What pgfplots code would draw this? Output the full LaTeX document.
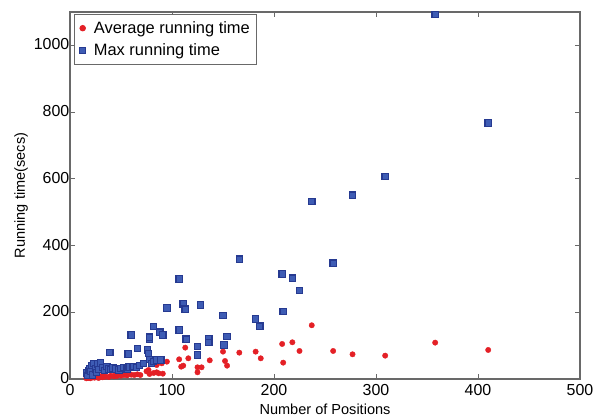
\documentclass[border=0pt]{standalone}
\usepackage{pgfplots}
\pgfplotsset{compat=1.18}
\usepackage{fontspec}
\setmainfont{Liberation Sans}
\definecolor{avgred}{RGB}{228,32,38}
\definecolor{maxblue}{RGB}{62,92,180}
\definecolor{maxedge}{RGB}{38,58,145}
\definecolor{axgray}{RGB}{105,105,105}
\begin{document}
\begin{tikzpicture}
\begin{axis}[
  scale only axis,
  width=510bp, height=367bp,
  xmin=0, xmax=500, ymin=0, ymax=1100,
  xtick={0,100,200,300,400,500},
  ytick={0,200,400,600,800,1000},
  tick align=inside, tick pos=both,
  major tick length=5bp,
  axis line style={axgray, line width=1.3bp},
  every tick/.style={axgray, line width=1bp},
  /pgf/number format/assume math mode=true,
  /pgf/number format/1000 sep={},
  tick label style={font=\fontsize{16}{18}\selectfont},
  yticklabel style={inner xsep=0.5bp, yshift=1bp},
  xticklabel style={inner ysep=5.5bp},
  label style={font=\fontsize{14.6}{17}\selectfont},
  xlabel={Number of Positions},
  ylabel={Running time(secs)},
  xlabel style={inner ysep=1bp, yshift=-1bp},
  ylabel style={yshift=2bp},
  legend style={at={(0,1)}, anchor=north west, xshift=4bp, yshift=-2bp,
    draw=axgray, line width=1bp, font=\fontsize{16.5}{19}\selectfont,
    row sep=5bp, inner xsep=5bp, inner ysep=5bp,
    /tikz/every odd column/.append style={column sep=6bp}},
  legend cell align=left,
]
\addplot[only marks, mark=*, mark size=2.7bp, color=avgred, mark options={fill=avgred, draw=avgred}] coordinates {
(16,2)(18,3)(20,2)(20,8)(22,5)(24,4)(25,10)(26,6)(28,3)(30,8)(32,5)(33,12)(35,7)(38,6)(40,10)(43,8)(45,14)(46,9)(50,10)(53,12)(56,11)(60,13)(63,12)(66,14)(69,12)(75,23)(77,27)(78,15)(82,18)(85,20)(87,17)(91,16)(85,42)(90,47)(95,52)(107,59)(109,37)(111,40)(113,94)(116,62)(125,20)(125,35)(129,35)(137,56)(150,82)(152,54)(154,40)(166,79)(182,82)(187,62)(208,105)(209,49)(218,110)(225,84)(237,161)(258,84)(277,74)(309,70)(358,109)(410,87)
};
\addlegendentry{Average running time}
\addplot[only marks, mark=square*, mark size=3.2bp, mark options={fill=maxblue, draw=maxedge, line width=1.2bp}] coordinates {
(16,18)(17,10)(18,25)(19,30)(20,22)(21,40)(22,12)(23,47)(25,30)(26,20)(27,45)(28,28)(30,48)(32,35)(34,25)(36,38)(38,30)(39,80)(40,28)(42,33)(45,30)(48,27)(50,32)(53,35)(56,30)(57,75)(58,36)(60,132)(62,38)(65,35)(66,92)(68,40)(72,47)(76,87)(77,77)(78,59)(78,118)(78,125)(80,47)(82,52)(82,157)(85,57)(88,140)(89,57)(91,132)(95,213)(107,300)(107,147)(111,225)(113,209)(114,119)(125,97)(125,72)(128,222)(136,120)(136,109)(150,190)(151,102)(154,127)(166,359)(182,180)(186,158)(208,315)(209,202)(218,302)(225,265)(237,532)(258,347)(277,551)(309,607)(358,1092)(410,767)
};
\addlegendentry{Max running time}
\end{axis}
\pgfresetboundingbox
\path (current axis.south west) ++(-70bp,-41bp) rectangle ++(597bp,420bp);
\end{tikzpicture}
\end{document}
